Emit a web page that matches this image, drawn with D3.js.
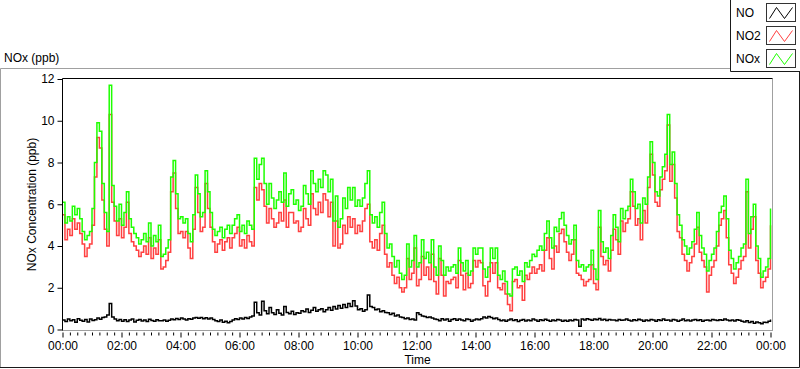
<!DOCTYPE html>
<html>
<head>
<meta charset="utf-8">
<script src="https://cdn.jsdelivr.net/npm/d3@7"></script>
<style>
  body { margin: 0; background: #fff; }
  svg { display: block; }
  text { font-family: "Liberation Sans", Arial, sans-serif; fill: #000; }
</style>
</head>
<body>
<svg id="chart" width="800" height="369"></svg>
<script>
// ---------------- data (5-minute values, 00:00 .. 24:00) ----------------
const stepMinutes = 5;
const seriesNames = ["NO", "NO2", "NOx"];
const seriesColors = ["#000000", "#ff4040", "#1eff00"];
const yTicks = [0, 2, 4, 6, 8, 10, 12];
const xTickMinutes = [0, 120, 240, 360, 480, 600, 720, 840, 960, 1080, 1200, 1320, 1440];
const xTickLabels = ["00:00", "02:00", "04:00", "06:00", "08:00", "10:00", "12:00",
                     "14:00", "16:00", "18:00", "20:00", "22:00", "00:00"];
const chartTitle = "NOx (ppb)";
const yLabel = "NOx Concentration (ppb)";
const xLabel = "Time";

const NO = [
  0.45,0.38,0.50,0.42,0.47,0.35,0.52,0.44,0.40,0.48,0.36,0.50,
  0.43,0.47,0.55,0.49,0.58,0.60,0.70,1.25,0.60,0.50,0.42,0.48,
  0.40,0.47,0.38,0.45,0.50,0.36,0.44,0.48,0.41,0.46,0.38,0.49,
  0.43,0.40,0.47,0.42,0.42,0.46,0.39,0.44,0.50,0.47,0.53,0.48,
  0.55,0.50,0.46,0.52,0.49,0.55,0.58,0.54,0.57,0.52,0.56,0.50,
  0.55,0.48,0.42,0.38,0.45,0.35,0.40,0.32,0.38,0.45,0.52,0.48,
  0.55,0.50,0.57,0.53,0.60,0.65,1.30,0.80,0.70,1.35,0.90,0.75,
  1.05,0.80,0.72,0.95,0.78,0.70,1.10,0.82,0.75,0.88,0.72,0.80,
  0.78,0.90,0.85,0.98,0.82,0.92,1.05,0.88,0.95,1.00,0.85,0.95,
  1.05,0.92,1.10,0.98,1.15,1.02,1.20,1.05,1.25,1.10,1.38,1.12,
  0.95,1.00,0.88,0.95,1.65,1.10,1.05,0.95,0.98,0.85,0.90,0.82,
  0.80,0.72,0.78,0.65,0.70,0.60,0.58,0.52,0.55,0.48,0.50,0.45,
  0.80,0.72,0.65,0.62,0.58,0.60,0.55,0.50,0.48,0.42,0.52,0.45,
  0.50,0.40,0.48,0.52,0.44,0.50,0.46,0.42,0.50,0.48,0.40,0.45,
  0.50,0.47,0.52,0.60,0.55,0.62,0.58,0.52,0.55,0.48,0.42,0.46,
  0.40,0.45,0.50,0.43,0.47,0.38,0.44,0.48,0.41,0.46,0.42,0.50,
  0.45,0.40,0.47,0.43,0.49,0.44,0.40,0.46,0.42,0.48,0.45,0.39,
  0.44,0.40,0.46,0.42,0.48,0.45,0.15,0.50,0.46,0.52,0.48,0.44,
  0.50,0.47,0.53,0.45,0.49,0.43,0.48,0.46,0.45,0.42,0.48,0.44,
  0.46,0.50,0.44,0.41,0.47,0.43,0.49,0.45,0.40,0.46,0.42,0.48,
  0.45,0.40,0.47,0.43,0.50,0.44,0.46,0.41,0.48,0.45,0.39,0.44,
  0.50,0.42,0.46,0.41,0.45,0.48,0.43,0.47,0.40,0.44,0.46,0.42,
  0.48,0.45,0.43,0.47,0.44,0.50,0.46,0.42,0.45,0.41,0.47,0.44,
  0.40,0.36,0.42,0.33,0.38,0.30,0.36,0.32,0.28,0.35,0.33,0.40,0.48
];

const NO2 = [
  5.5,4.3,4.8,4.5,5.3,4.8,5.1,4.6,4.1,3.5,3.9,4.1,
  5.0,7.3,9.2,8.7,6.2,4.8,4.0,10.3,6.1,5.2,4.5,5.3,
  4.4,4.9,6.1,4.6,4.2,4.0,3.8,3.5,3.7,4.0,3.6,4.4,
  3.4,3.9,3.6,4.3,2.9,3.0,3.3,3.7,6.6,7.5,5.8,4.6,
  4.7,4.4,4.7,3.9,3.4,4.8,6.8,5.6,4.7,4.9,7.0,5.8,
  4.9,4.2,3.7,4.1,4.3,3.8,4.2,4.4,3.9,4.4,4.6,4.9,
  4.0,4.3,3.9,4.5,4.2,4.0,6.8,6.2,7.0,6.7,5.9,5.1,
  5.8,5.3,4.9,5.1,5.6,5.2,6.2,4.9,5.6,5.6,5.1,5.2,
  4.7,4.9,5.8,5.3,5.0,6.5,5.8,5.5,6.1,5.6,6.5,6.2,
  5.4,6.1,4.0,5.2,3.9,4.1,5.0,4.6,5.4,4.9,5.3,4.6,
  5.0,4.7,5.2,5.8,6.0,4.2,3.9,4.3,3.8,4.6,5.0,3.6,
  3.0,3.2,2.6,2.2,2.5,2.0,1.8,2.0,3.4,2.4,2.7,3.9,
  2.1,2.4,3.5,2.6,3.0,2.4,3.6,2.3,1.7,3.4,2.6,1.6,
  2.3,2.2,2.4,2.5,2.0,3.3,2.6,1.9,2.7,2.0,2.2,3.3,
  3.0,3.3,3.2,2.1,1.6,2.3,3.2,2.7,3.2,2.0,1.9,2.2,
  1.7,1.2,0.9,2.3,2.4,2.0,2.1,1.4,2.6,2.4,2.7,3.0,
  2.7,2.9,3.1,2.8,3.8,4.4,3.4,2.9,4.0,3.7,4.6,4.8,
  4.2,3.7,3.3,3.6,4.3,2.7,2.6,2.4,2.1,2.3,2.4,3.1,
  2.2,1.9,4.9,3.5,3.1,3.3,2.8,3.8,4.8,4.3,3.6,5.2,
  4.7,5.1,5.3,6.6,5.9,5.0,5.3,4.3,5.7,5.1,6.8,8.4,
  7.4,6.1,5.9,6.7,7.2,7.6,9.8,7.1,7.9,6.3,4.7,4.4,
  3.6,3.3,2.8,3.2,3.5,4.1,4.9,3.7,3.3,3.0,1.8,2.6,
  3.0,3.3,4.0,5.0,5.3,5.7,4.4,3.1,2.7,2.2,2.5,2.9,
  3.3,3.5,6.6,3.9,4.8,5.4,3.3,2.7,2.0,2.3,2.5,2.9,5.0
];

const NOx = [
  6.1,5.1,5.4,5.2,5.9,5.5,5.8,5.3,4.7,4.3,4.5,4.7,
  5.8,8.0,9.9,9.5,7.0,5.6,4.7,11.7,6.9,5.9,5.2,6.0,
  5.0,5.6,6.6,5.3,4.9,4.6,4.4,4.1,4.3,4.6,4.2,5.1,
  4.0,4.5,4.2,5.0,3.5,3.6,3.9,4.3,7.3,8.1,6.5,5.3,
  5.4,5.1,5.3,4.6,4.2,5.5,7.4,6.5,5.4,5.6,7.6,6.6,
  5.6,4.8,4.5,4.7,4.9,4.4,4.8,5.0,4.6,5.0,5.3,5.5,
  4.7,5.0,4.6,5.2,5.0,4.8,8.2,7.2,7.9,8.2,7.0,6.0,
  7.0,6.3,5.8,6.2,6.6,6.1,7.5,5.9,6.5,6.7,6.0,6.2,
  5.7,5.9,6.9,6.5,6.0,7.6,7.0,6.6,7.2,6.8,7.6,7.4,
  6.6,7.2,5.2,6.4,4.9,5.3,6.3,5.8,6.8,6.2,6.8,5.9,
  6.2,5.9,6.3,7.0,7.6,5.5,5.1,5.4,4.9,5.6,6.1,4.6,
  3.9,4.1,3.5,3.0,3.3,2.7,2.4,2.6,4.1,3.0,3.3,4.5,
  3.0,3.2,4.3,3.4,3.7,3.2,4.3,3.0,2.6,4.0,3.3,2.6,
  3.0,2.8,3.0,3.1,2.7,3.9,3.2,2.8,3.3,2.6,2.8,3.9,
  3.6,3.9,3.9,2.9,2.5,3.0,3.9,3.4,3.9,2.6,2.4,2.8,
  2.3,1.7,1.6,2.9,3.0,2.6,2.8,2.3,3.2,3.0,3.3,3.6,
  3.5,3.8,4.0,3.8,4.6,5.2,4.4,3.9,4.9,4.7,5.3,5.6,
  5.0,4.5,4.1,4.3,5.0,3.3,3.0,3.1,2.8,3.0,3.1,3.8,
  2.9,2.4,5.7,4.2,3.7,3.9,3.4,4.5,5.5,4.9,4.2,5.8,
  5.3,5.7,5.9,7.2,6.6,5.8,6.0,5.1,6.3,6.0,7.3,9.0,
  8.0,6.6,6.4,7.3,7.8,8.4,10.3,7.9,8.5,7.0,5.5,5.0,
  4.3,4.0,3.6,3.9,4.2,4.8,5.6,4.5,3.9,3.6,2.8,3.3,
  3.6,3.9,4.7,5.6,5.9,6.4,5.3,3.8,3.4,2.9,3.2,3.5,
  3.9,4.1,7.2,4.6,5.4,6.0,4.0,3.4,2.5,2.8,3.0,3.4,5.8
];

// ---------------- drawing ----------------
const svg = d3.select("#chart");
const W = 800, H = 369;
const plot = { left: 62.5, right: 772.5, top: 78.5, bottom: 330.5 };

const x = d3.scaleLinear().domain([0, 1440]).range([62.5, 770.5]);
const y = d3.scaleLinear().domain([0, 12]).range([329.5, 79]);

svg.append("rect").attr("width", W).attr("height", H).attr("fill", "#fff");

// outer panel frame
svg.append("path").attr("d", `M0.5,${H - 1.5} V68.5 H730`)
  .attr("fill", "none").attr("stroke", "#a0a0a0");
svg.append("path").attr("d", `M0,${H - 1.5} H799.5 V71`)
  .attr("fill", "none").attr("stroke", "#1a1a1a");

// chart title
svg.append("text").attr("x", 4).attr("y", 62).style("font-size", "12px").text(chartTitle);

// clip for plot
svg.append("clipPath").attr("id", "clip")
  .append("rect").attr("x", plot.left).attr("y", plot.top)
  .attr("width", plot.right - plot.left).attr("height", plot.bottom - plot.top);

// series
const seriesData = [NO, NO2, NOx];
const line = d3.line()
  .x((d, i) => x(i * stepMinutes))
  .y(d => y(d))
  .curve(d3.curveStepAfter);

const gLines = svg.append("g").attr("clip-path", "url(#clip)");
seriesData.forEach((arr, k) => {
  gLines.append("path")
    .datum(arr)
    .attr("d", line)
    .attr("fill", "none")
    .attr("stroke", seriesColors[k])
    .attr("stroke-width", 1.5)
    .attr("stroke-linejoin", "miter");
});

// plot frame: top & left black, right & bottom grey
svg.append("line").attr("x1", plot.right).attr("x2", plot.right)
  .attr("y1", plot.top).attr("y2", plot.bottom).attr("stroke", "#a0a0a0");
svg.append("line").attr("x1", plot.left).attr("x2", plot.right + 0.5)
  .attr("y1", plot.bottom).attr("y2", plot.bottom).attr("stroke", "#a0a0a0");
svg.append("line").attr("x1", plot.left).attr("x2", plot.right)
  .attr("y1", plot.top).attr("y2", plot.top).attr("stroke", "#000");

// y axis
const yAxis = d3.axisLeft(y).tickValues(yTicks).tickSize(5).tickPadding(3).tickSizeOuter(0);
const gy = svg.append("g").attr("transform", `translate(${plot.left},0)`).call(yAxis);
gy.select(".domain").attr("d", `M0,${plot.top}V${plot.bottom}`).attr("stroke", "#000");
gy.selectAll("text").style("font-size", "12px").style("font-family", '"Liberation Sans", Arial, sans-serif').attr("fill", "#000");
gy.selectAll(".tick line").attr("stroke", "#000");

// x axis minor
const minorTicks = d3.range(0, 1441, 15).filter(m => m % 120 !== 0);
const gxm = svg.append("g").attr("transform", "translate(0,332.5)")
  .call(d3.axisBottom(x).tickValues(minorTicks).tickSize(3).tickFormat(""));
gxm.select(".domain").remove();
gxm.selectAll(".tick line").attr("stroke", "#000");

// x axis major
const gx = svg.append("g").attr("transform", "translate(0,332.5)")
  .call(d3.axisBottom(x).tickValues(xTickMinutes).tickSize(5).tickPadding(4)
    .tickFormat((d, i) => xTickLabels[i]));
gx.select(".domain").remove();
gx.selectAll(".tick line").attr("stroke", "#000");
gx.selectAll("text").style("font-size", "12px").style("font-family", '"Liberation Sans", Arial, sans-serif').attr("fill", "#000");

// axis titles
svg.append("text").attr("x", (plot.left + plot.right) / 2).attr("y", 364)
  .attr("text-anchor", "middle").style("font-size", "12px").text(xLabel);
svg.append("text").attr("transform", `translate(36,${(plot.top + plot.bottom) / 2}) rotate(-90)`)
  .attr("text-anchor", "middle").style("font-size", "12px").text(yLabel);

// legend
const lg = svg.append("g");
lg.append("path").attr("d", "M730.5,0 V71.5 H800").attr("fill", "none").attr("stroke", "#1a1a1a");
const legendRowY = [3.5, 26.5, 49.5];
seriesNames.forEach((name, k) => {
  const ry = legendRowY[k];
  lg.append("text").attr("x", 736).attr("y", ry + 13).style("font-size", "12px").text(name);
  lg.append("rect").attr("x", 766.5).attr("y", ry).attr("width", 29).attr("height", 18)
    .attr("fill", "#fff").attr("stroke", "#333");
  const rx = 766.5;
  lg.append("polyline")
    .attr("points", [[rx + 3, ry + 15], [rx + 10, ry + 4], [rx + 18, ry + 15], [rx + 26, ry + 4]].map(p => p.join(",")).join(" "))
    .attr("fill", "none").attr("stroke", seriesColors[k]).attr("stroke-width", 1);
});
</script>
</body>
</html>
